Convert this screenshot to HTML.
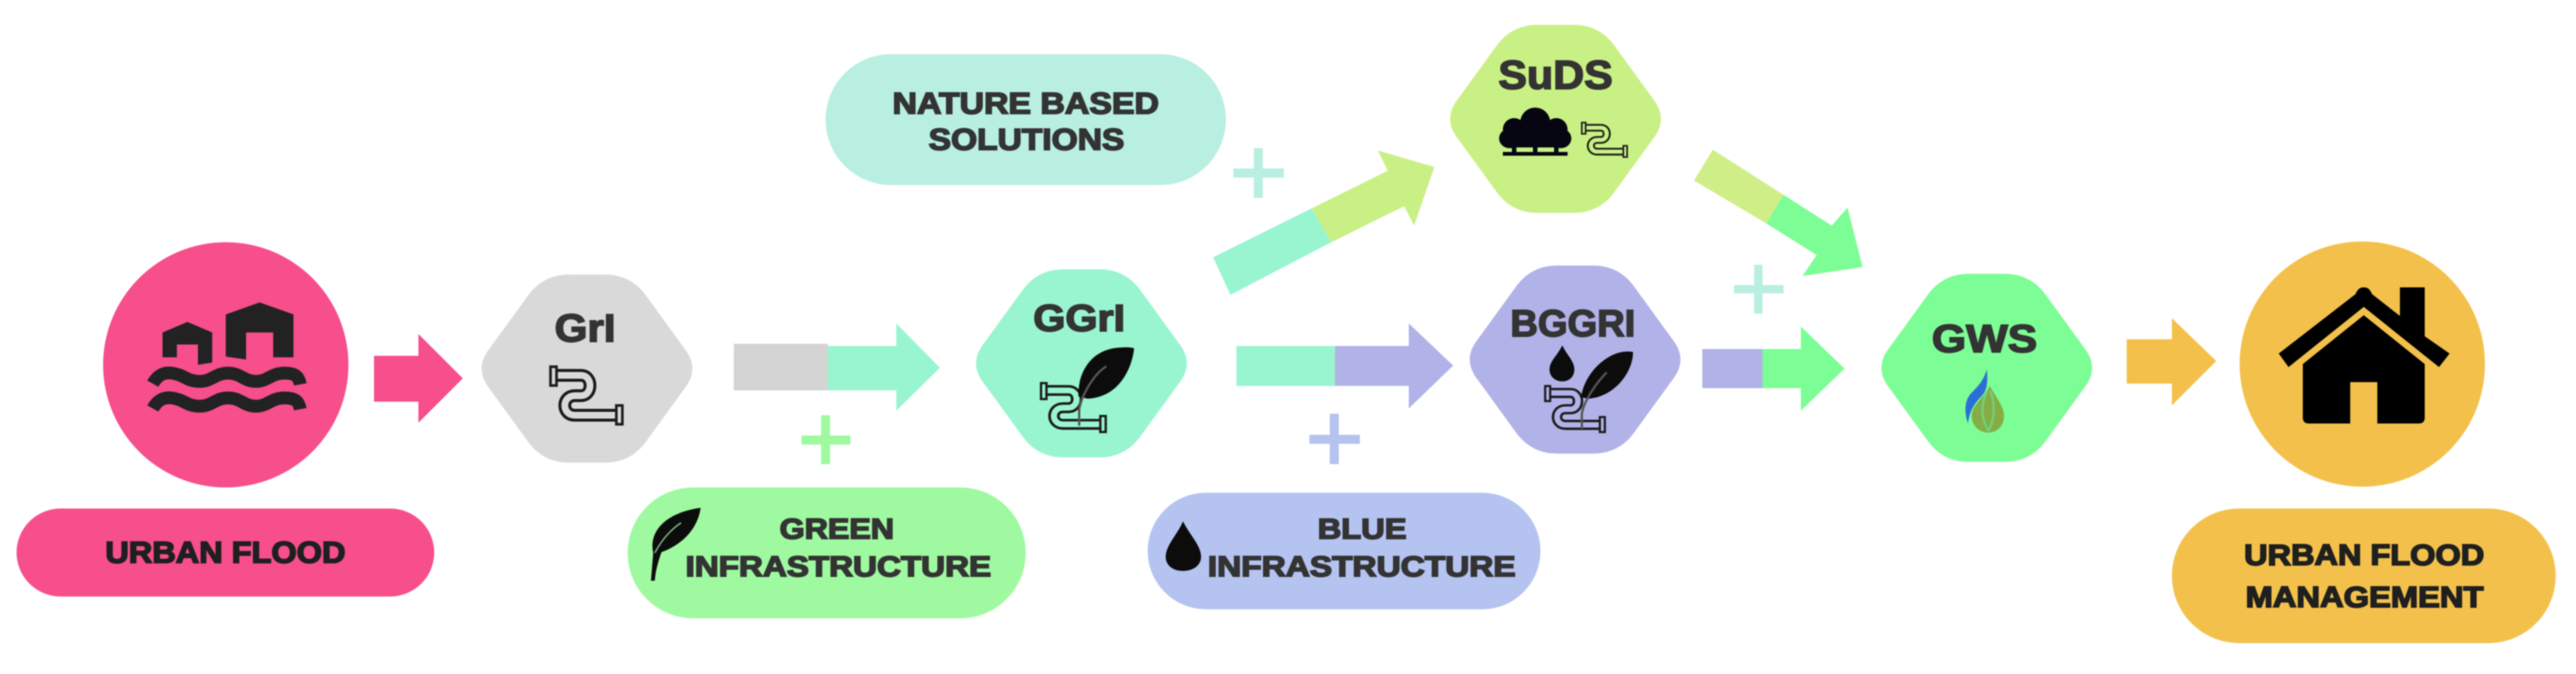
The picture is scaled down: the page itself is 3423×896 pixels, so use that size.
<!DOCTYPE html>
<html>
<head>
<meta charset="utf-8">
<style>
html,body{margin:0;padding:0;background:#fff;}
svg{display:block;filter:blur(0.8px);}
text{font-family:"Liberation Sans",sans-serif;font-weight:700;fill:#333;stroke:#333;stroke-width:2px;}
</style>
</head>
<body>
<svg xmlns="http://www.w3.org/2000/svg" width="3423" height="896" viewBox="0 0 3423 896">
<defs>
<path id="hex" d="M-130,-26 L-77,-99 Q-57,-125 -24,-125 L24,-125 Q57,-125 77,-99 L130,-26 Q150,0 130,26 L77,99 Q57,125 24,125 L-24,125 Q-57,125 -77,99 L-130,26 Q-150,0 -130,-26Z"/>
<g id="pipe">
<path d="M5 13 H42 C58 13 58 40 42 40 H34 C16 40 16 66 34 66 H92" fill="none" stroke="#1c1c1c" stroke-width="17"/>
<path d="M5 13 H42 C58 13 58 40 42 40 H34 C16 40 16 66 34 66 H92" fill="none" stroke="var(--p)" stroke-width="9"/>
<rect x="1.5" y="1.5" width="8" height="25" fill="var(--p)" stroke="#1c1c1c" stroke-width="3.5"/>
<rect x="89" y="53" width="8" height="25" fill="var(--p)" stroke="#1c1c1c" stroke-width="3.5"/>
</g>
</defs>

<!-- Urban flood -->
<circle cx="300" cy="485" r="163" fill="#f64f8b"/>
<rect x="22" y="676" width="555" height="117" rx="58.5" fill="#f64f8b"/>
<path d="M216 442 L249 428 L282 442 V482 L263 485 V458 H235 V475 H216 Z" fill="#222"/>
<path d="M300 418 L345 402 L390 418 V475 H363 V442 H327 V478 L300 474 Z" fill="#222"/>
<g fill="none" stroke="#222" stroke-width="17">
<path d="M203 510 Q212 494 228 496 C245 498 248 507 265 507 C282 507 286 496 303 496 C320 496 324 507 340 507 C356 507 360 496 378 496 C392 496 397 500 399 511"/>
<path d="M203 543 Q212 527 228 529 C245 531 248 540 265 540 C282 540 286 529 303 529 C320 529 324 540 340 540 C356 540 360 529 378 529 C392 529 397 533 399 544"/>
</g>
<text x="140" y="748" font-size="40" textLength="319" lengthAdjust="spacingAndGlyphs" style="fill:#1f1f1f;stroke:#1f1f1f">URBAN FLOOD</text>

<!-- Arrow 1 -->
<polygon points="497,473 556,473 556,444 615,503 556,562 556,534 497,534" fill="#f64f8b"/>

<!-- GrI -->
<use href="#hex" x="780" y="490" fill="#d9d9d9"/>
<text x="737" y="454" font-size="52" textLength="81" lengthAdjust="spacingAndGlyphs">GrI</text>
<use href="#pipe" transform="translate(730,486)" style="--p:#d9d9d9"/>

<!-- Arrow 2 -->
<rect x="975" y="457" width="125" height="62" fill="#d4d4d4"/>
<polygon points="1100,460 1191,460 1191,430 1249,489 1191,546 1191,519 1100,519" fill="#99f5cf"/>

<!-- Plus green -->
<path d="M1091 552h12v27h27v12h-27v26h-12v-26h-26v-12h26z" fill="#9ff9a0"/>

<!-- Green pill -->
<rect x="834" y="648" width="529" height="174" rx="87" fill="#9ff9a0"/>
<path d="M865 772 L868 735 C862 708 882 682 931 675 C928 698 912 722 879 734 C874 748 871 760 870 772 Z" fill="#0c0c0c"/>
<path d="M870 735 C878 720 890 705 905 695" fill="none" stroke="#7fae7f" stroke-width="2"/>
<text x="1036" y="716" font-size="38" textLength="152" lengthAdjust="spacingAndGlyphs">GREEN</text>
<text x="911" y="766" font-size="38" textLength="406" lengthAdjust="spacingAndGlyphs">INFRASTRUCTURE</text>

<!-- GGrI -->
<use href="#hex" x="1437" y="483" fill="#99f5cf"/>
<text x="1373" y="440" font-size="50" textLength="122" lengthAdjust="spacingAndGlyphs">GGrI</text>
<use href="#pipe" transform="translate(1382,508) scale(.9,.85)" style="--p:#99f5cf"/>
<path d="M1433 527 C1432 495 1450 463 1490 462 Q1500 461 1507 463 C1505 485 1490 528 1445 530 Z" fill="#0c0c0c"/>
<path d="M1434 566 V545 C1436 530 1450 500 1470 487" fill="none" stroke="#555" stroke-width="3"/>

<!-- Arrow up -->
<polygon points="1612,342 1743,277 1769,322 1635,392" fill="#99f5cf"/>
<polygon points="1743,277 1844,227 1831,200 1906,222 1879,300 1866,274 1769,322" fill="#c9f084"/>

<!-- Nature pill -->
<rect x="1097" y="72" width="532" height="174" rx="87" fill="#b8efe0"/>
<text x="1186" y="151" font-size="40" textLength="354" lengthAdjust="spacingAndGlyphs">NATURE BASED</text>
<text x="1234" y="199" font-size="40" textLength="260" lengthAdjust="spacingAndGlyphs">SOLUTIONS</text>
<path d="M1666 197h12v27h28v12h-28v27h-12v-27h-27v-12h27z" fill="#b8efe0"/>

<!-- SuDS -->
<use href="#hex" x="2067" y="158" fill="#c9f084"/>
<text x="1991" y="118" font-size="54" textLength="152" lengthAdjust="spacingAndGlyphs">SuDS</text>
<g fill="#060612">
<circle cx="2040" cy="163" r="20"/>
<circle cx="2012" cy="172" r="15"/>
<circle cx="2068" cy="172" r="15"/>
<ellipse cx="2006" cy="184" rx="14" ry="13"/>
<ellipse cx="2074" cy="184" rx="14" ry="13"/>
<rect x="2005" y="170" width="70" height="26"/>
<rect x="2009" y="192" width="6" height="12"/>
<rect x="2037" y="192" width="6" height="12"/>
<rect x="2065" y="192" width="6" height="12"/>
<rect x="1997" y="202" width="86" height="5"/>
</g>
<g transform="translate(2101,162) scale(.63,.6)" style="--p:#c9f084"><use href="#pipe"/></g>

<!-- Arrow 3 -->
<rect x="1643" y="460" width="131" height="53" fill="#99f5cf"/>
<polygon points="1774,460 1872,460 1872,430 1931,486 1872,543 1872,513 1774,513" fill="#b1b2e8"/>
<path d="M1767 550h12v28h28v12h-28v27h-12v-27h-27v-12h27z" fill="#b5c3f0"/>

<!-- Blue pill -->
<rect x="1525" y="655" width="522" height="155" rx="77.5" fill="#b5c3f0"/>
<path d="M1572 693 C1580 710 1596 725 1596 740 C1596 752 1585 759 1572 759 C1559 759 1549 752 1549 740 C1549 725 1565 710 1572 693 Z" fill="#0c0c0c"/>
<text x="1751" y="716" font-size="38" textLength="118" lengthAdjust="spacingAndGlyphs">BLUE</text>
<text x="1605" y="766" font-size="38" textLength="409" lengthAdjust="spacingAndGlyphs">INFRASTRUCTURE</text>

<!-- BGGRI -->
<use href="#hex" x="2093" y="478" fill="#b1b2e8"/>
<text x="2007" y="447" font-size="50" textLength="166" lengthAdjust="spacingAndGlyphs">BGGRI</text>
<path d="M2076 459 C2082 472 2092 480 2092 491 C2092 501 2085 507 2076 507 C2067 507 2059 501 2059 491 C2059 480 2070 472 2076 459 Z" fill="#0c0c0c"/>
<use href="#pipe" transform="translate(2052,512) scale(.83,.8)" style="--p:#b1b2e8"/>
<path d="M2101 528 C2105 495 2140 462 2170 468 C2170 495 2145 528 2110 530 Z" fill="#0c0c0c"/>
<path d="M2102 570 V550 C2104 535 2120 510 2135 495" fill="none" stroke="#555" stroke-width="3"/>

<!-- Arrow down -->
<polygon points="2276,199 2370,259 2347,297 2251,240" fill="#cfee88"/>
<polygon points="2370,259 2434,300 2455,276 2475,355 2395,367 2414,339 2347,297" fill="#7dfd95"/>
<path d="M2331 352h11v27h28v11h-28v27h-11v-27h-27v-11h27z" fill="#b8efe0"/>

<!-- Arrow 5 -->
<rect x="2262" y="464" width="80" height="52" fill="#b1b2e8"/>
<polygon points="2342,464 2393,464 2393,434 2451,490 2393,546 2393,516 2342,516" fill="#7dfd95"/>

<!-- GWS -->
<use href="#hex" x="2640" y="489" fill="#7dfd95"/>
<text x="2567" y="468" font-size="52" textLength="140" lengthAdjust="spacingAndGlyphs">GWS</text>
<path d="M2640 491 C2642 510 2640 520 2632 528 C2622 538 2617 548 2615 563 C2610 548 2610 532 2620 522 C2630 512 2636 505 2640 491 Z" fill="#2b6fd6"/>
<path d="M2644 513 C2652 528 2663 540 2663 553 C2663 566 2654 575 2642 575 C2630 575 2620 566 2620 553 C2620 538 2636 530 2644 513 Z" fill="#86ad45"/>
<path d="M2640 520 C2632 540 2632 555 2642 573 M2645 520 C2652 540 2650 560 2642 573" fill="none" stroke="#6fd27a" stroke-width="3"/>

<!-- Arrow 6 -->
<polygon points="2826,451 2886,451 2886,423 2945,480 2886,539 2886,510 2826,510" fill="#f3c14b"/>

<!-- Home -->
<circle cx="3139" cy="484" r="163" fill="#f3c14b"/>
<path d="M3141 382 C3146 382 3149 384 3152 391 L3189 420 V382 H3222 V447 L3255 470 L3241 488 L3141 408 L3041 488 L3028 470 L3130 391 C3133 384 3136 382 3141 382 Z" fill="#000"/>
<path d="M3141 419 L3222 484 V555 Q3222 563 3214 563 H3159 V508 H3123 V563 H3068 Q3060 563 3060 555 V484 Z" fill="#000"/>
<rect x="2886" y="676" width="510" height="179" rx="89.5" fill="#f3c14b"/>
<text x="2982" y="751" font-size="39" textLength="319" lengthAdjust="spacingAndGlyphs" style="fill:#1f1f1f;stroke:#1f1f1f">URBAN FLOOD</text>
<text x="2984" y="807" font-size="39" textLength="316" lengthAdjust="spacingAndGlyphs" style="fill:#1f1f1f;stroke:#1f1f1f">MANAGEMENT</text>
</svg>
</body>
</html>
